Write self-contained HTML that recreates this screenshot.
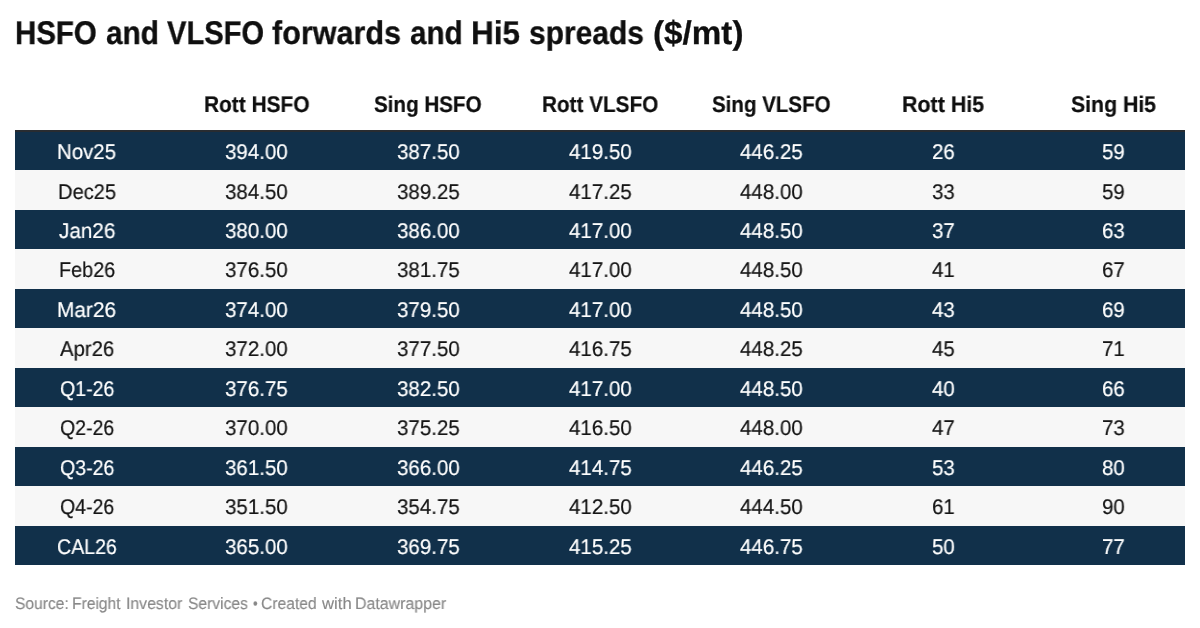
<!DOCTYPE html><html><head><meta charset="utf-8"><title>HSFO and VLSFO forwards and Hi5 spreads</title><style>
html,body{margin:0;padding:0;background:#fff;}
body{width:1200px;height:628px;overflow:hidden;position:relative;font-family:"Liberation Sans",sans-serif;text-rendering:geometricPrecision;}
.t{position:absolute;white-space:nowrap;line-height:1;transform-origin:0 0;will-change:transform;}
.r{position:absolute;left:15px;width:1170px;}
.tt{-webkit-text-stroke:0.3px currentColor}
.th{-webkit-text-stroke:0.2px currentColor}
.tb{-webkit-text-stroke:0.2px currentColor}
.ts{-webkit-text-stroke:0.15px currentColor}

</style></head><body>
<span class="t tt" style="left:14.76px;top:16.83px;font-size:32.8px;font-weight:bold;color:#0f0f0f;transform:scaleX(0.8979)">HSFO</span>
<span class="t tt" style="left:105.84px;top:16.83px;font-size:32.8px;font-weight:bold;color:#0f0f0f;transform:scaleX(0.9066)">and</span>
<span class="t tt" style="left:166.90px;top:16.83px;font-size:32.8px;font-weight:bold;color:#0f0f0f;transform:scaleX(0.8882)">VLSFO</span>
<span class="t tt" style="left:272.42px;top:16.83px;font-size:32.8px;font-weight:bold;color:#0f0f0f;transform:scaleX(0.9314)">forwards</span>
<span class="t tt" style="left:410.24px;top:16.83px;font-size:32.8px;font-weight:bold;color:#0f0f0f;transform:scaleX(0.9030)">and</span>
<span class="t tt" style="left:471.13px;top:16.83px;font-size:32.8px;font-weight:bold;color:#0f0f0f;transform:scaleX(0.9611)">Hi5</span>
<span class="t tt" style="left:529.16px;top:16.83px;font-size:32.8px;font-weight:bold;color:#0f0f0f;transform:scaleX(0.9137)">spreads</span>
<span class="t tt" style="left:652.94px;top:16.83px;font-size:32.8px;font-weight:bold;color:#0f0f0f;transform:scaleX(1.0131)">($/mt)</span>
<span class="t th" style="left:203.70px;top:93.67px;font-size:22.6px;font-weight:bold;color:#0f0f0f;transform:scaleX(0.9234)">Rott HSFO</span>
<span class="t th" style="left:374.48px;top:93.67px;font-size:22.6px;font-weight:bold;color:#0f0f0f;transform:scaleX(0.9117)">Sing HSFO</span>
<span class="t th" style="left:541.90px;top:93.67px;font-size:22.6px;font-weight:bold;color:#0f0f0f;transform:scaleX(0.9170)">Rott VLSFO</span>
<span class="t th" style="left:712.38px;top:93.67px;font-size:22.6px;font-weight:bold;color:#0f0f0f;transform:scaleX(0.9082)">Sing VLSFO</span>
<span class="t th" style="left:901.86px;top:93.67px;font-size:22.6px;font-weight:bold;color:#0f0f0f;transform:scaleX(0.9486)">Rott Hi5</span>
<span class="t th" style="left:1070.67px;top:93.67px;font-size:22.6px;font-weight:bold;color:#0f0f0f;transform:scaleX(0.9408)">Sing Hi5</span>
<div style="position:absolute;left:15px;width:1170px;top:130px;height:2px;background:#282c31"></div>
<div class="r" style="top:132.00px;height:38.46px;background:#11304a"></div>
<span class="t tb" style="left:57.30px;top:142.07px;font-size:21.3px;color:#ffffff;transform:scaleX(0.9586)">Nov25</span>
<span class="t tb" style="left:225.08px;top:142.07px;font-size:21.3px;color:#ffffff;transform:scaleX(0.9630)">394.00</span>
<span class="t tb" style="left:397.03px;top:142.07px;font-size:21.3px;color:#ffffff;transform:scaleX(0.9630)">387.50</span>
<span class="t tb" style="left:568.73px;top:142.07px;font-size:21.3px;color:#ffffff;transform:scaleX(0.9630)">419.50</span>
<span class="t tb" style="left:740.28px;top:142.07px;font-size:21.3px;color:#ffffff;transform:scaleX(0.9630)">446.25</span>
<span class="t tb" style="left:931.89px;top:142.07px;font-size:21.3px;color:#ffffff;transform:scaleX(0.9630)">26</span>
<span class="t tb" style="left:1101.89px;top:142.07px;font-size:21.3px;color:#ffffff;transform:scaleX(0.9630)">59</span>
<div class="r" style="top:170.46px;height:39.46px;background:#f7f7f7"></div>
<span class="t tb" style="left:57.73px;top:181.53px;font-size:21.3px;color:#141414;transform:scaleX(0.9434)">Dec25</span>
<span class="t tb" style="left:225.08px;top:181.53px;font-size:21.3px;color:#141414;transform:scaleX(0.9630)">384.50</span>
<span class="t tb" style="left:397.03px;top:181.53px;font-size:21.3px;color:#141414;transform:scaleX(0.9630)">389.25</span>
<span class="t tb" style="left:568.73px;top:181.53px;font-size:21.3px;color:#141414;transform:scaleX(0.9630)">417.25</span>
<span class="t tb" style="left:740.28px;top:181.53px;font-size:21.3px;color:#141414;transform:scaleX(0.9630)">448.00</span>
<span class="t tb" style="left:931.89px;top:181.53px;font-size:21.3px;color:#141414;transform:scaleX(0.9630)">33</span>
<span class="t tb" style="left:1101.89px;top:181.53px;font-size:21.3px;color:#141414;transform:scaleX(0.9630)">59</span>
<div class="r" style="top:209.92px;height:39.46px;background:#11304a"></div>
<span class="t tb" style="left:58.58px;top:220.99px;font-size:21.3px;color:#ffffff;transform:scaleX(0.9712)">Jan26</span>
<span class="t tb" style="left:225.08px;top:220.99px;font-size:21.3px;color:#ffffff;transform:scaleX(0.9630)">380.00</span>
<span class="t tb" style="left:397.03px;top:220.99px;font-size:21.3px;color:#ffffff;transform:scaleX(0.9630)">386.00</span>
<span class="t tb" style="left:568.73px;top:220.99px;font-size:21.3px;color:#ffffff;transform:scaleX(0.9630)">417.00</span>
<span class="t tb" style="left:740.28px;top:220.99px;font-size:21.3px;color:#ffffff;transform:scaleX(0.9630)">448.50</span>
<span class="t tb" style="left:931.89px;top:220.99px;font-size:21.3px;color:#ffffff;transform:scaleX(0.9630)">37</span>
<span class="t tb" style="left:1101.89px;top:220.99px;font-size:21.3px;color:#ffffff;transform:scaleX(0.9630)">63</span>
<div class="r" style="top:249.38px;height:39.46px;background:#f7f7f7"></div>
<span class="t tb" style="left:58.65px;top:260.45px;font-size:21.3px;color:#141414;transform:scaleX(0.9314)">Feb26</span>
<span class="t tb" style="left:225.08px;top:260.45px;font-size:21.3px;color:#141414;transform:scaleX(0.9630)">376.50</span>
<span class="t tb" style="left:397.03px;top:260.45px;font-size:21.3px;color:#141414;transform:scaleX(0.9630)">381.75</span>
<span class="t tb" style="left:568.73px;top:260.45px;font-size:21.3px;color:#141414;transform:scaleX(0.9630)">417.00</span>
<span class="t tb" style="left:740.28px;top:260.45px;font-size:21.3px;color:#141414;transform:scaleX(0.9630)">448.50</span>
<span class="t tb" style="left:931.89px;top:260.45px;font-size:21.3px;color:#141414;transform:scaleX(0.9630)">41</span>
<span class="t tb" style="left:1101.89px;top:260.45px;font-size:21.3px;color:#141414;transform:scaleX(0.9630)">67</span>
<div class="r" style="top:288.84px;height:39.46px;background:#11304a"></div>
<span class="t tb" style="left:57.07px;top:299.91px;font-size:21.3px;color:#ffffff;transform:scaleX(0.9784)">Mar26</span>
<span class="t tb" style="left:225.08px;top:299.91px;font-size:21.3px;color:#ffffff;transform:scaleX(0.9630)">374.00</span>
<span class="t tb" style="left:397.03px;top:299.91px;font-size:21.3px;color:#ffffff;transform:scaleX(0.9630)">379.50</span>
<span class="t tb" style="left:568.73px;top:299.91px;font-size:21.3px;color:#ffffff;transform:scaleX(0.9630)">417.00</span>
<span class="t tb" style="left:740.28px;top:299.91px;font-size:21.3px;color:#ffffff;transform:scaleX(0.9630)">448.50</span>
<span class="t tb" style="left:931.89px;top:299.91px;font-size:21.3px;color:#ffffff;transform:scaleX(0.9630)">43</span>
<span class="t tb" style="left:1101.89px;top:299.91px;font-size:21.3px;color:#ffffff;transform:scaleX(0.9630)">69</span>
<div class="r" style="top:328.30px;height:39.46px;background:#f7f7f7"></div>
<span class="t tb" style="left:60.20px;top:339.37px;font-size:21.3px;color:#141414;transform:scaleX(0.9531)">Apr26</span>
<span class="t tb" style="left:225.08px;top:339.37px;font-size:21.3px;color:#141414;transform:scaleX(0.9630)">372.00</span>
<span class="t tb" style="left:397.03px;top:339.37px;font-size:21.3px;color:#141414;transform:scaleX(0.9630)">377.50</span>
<span class="t tb" style="left:568.73px;top:339.37px;font-size:21.3px;color:#141414;transform:scaleX(0.9630)">416.75</span>
<span class="t tb" style="left:740.28px;top:339.37px;font-size:21.3px;color:#141414;transform:scaleX(0.9630)">448.25</span>
<span class="t tb" style="left:931.89px;top:339.37px;font-size:21.3px;color:#141414;transform:scaleX(0.9630)">45</span>
<span class="t tb" style="left:1101.89px;top:339.37px;font-size:21.3px;color:#141414;transform:scaleX(0.9630)">71</span>
<div class="r" style="top:367.76px;height:39.46px;background:#11304a"></div>
<span class="t tb" style="left:59.68px;top:378.83px;font-size:21.3px;color:#ffffff;transform:scaleX(0.9191)">Q1-26</span>
<span class="t tb" style="left:225.08px;top:378.83px;font-size:21.3px;color:#ffffff;transform:scaleX(0.9630)">376.75</span>
<span class="t tb" style="left:397.03px;top:378.83px;font-size:21.3px;color:#ffffff;transform:scaleX(0.9630)">382.50</span>
<span class="t tb" style="left:568.73px;top:378.83px;font-size:21.3px;color:#ffffff;transform:scaleX(0.9630)">417.00</span>
<span class="t tb" style="left:740.28px;top:378.83px;font-size:21.3px;color:#ffffff;transform:scaleX(0.9630)">448.50</span>
<span class="t tb" style="left:931.89px;top:378.83px;font-size:21.3px;color:#ffffff;transform:scaleX(0.9630)">40</span>
<span class="t tb" style="left:1101.89px;top:378.83px;font-size:21.3px;color:#ffffff;transform:scaleX(0.9630)">66</span>
<div class="r" style="top:407.22px;height:39.46px;background:#f7f7f7"></div>
<span class="t tb" style="left:59.83px;top:418.29px;font-size:21.3px;color:#141414;transform:scaleX(0.9165)">Q2-26</span>
<span class="t tb" style="left:225.08px;top:418.29px;font-size:21.3px;color:#141414;transform:scaleX(0.9630)">370.00</span>
<span class="t tb" style="left:397.03px;top:418.29px;font-size:21.3px;color:#141414;transform:scaleX(0.9630)">375.25</span>
<span class="t tb" style="left:568.73px;top:418.29px;font-size:21.3px;color:#141414;transform:scaleX(0.9630)">416.50</span>
<span class="t tb" style="left:740.28px;top:418.29px;font-size:21.3px;color:#141414;transform:scaleX(0.9630)">448.00</span>
<span class="t tb" style="left:931.89px;top:418.29px;font-size:21.3px;color:#141414;transform:scaleX(0.9630)">47</span>
<span class="t tb" style="left:1101.89px;top:418.29px;font-size:21.3px;color:#141414;transform:scaleX(0.9630)">73</span>
<div class="r" style="top:446.68px;height:39.46px;background:#11304a"></div>
<span class="t tb" style="left:59.68px;top:457.75px;font-size:21.3px;color:#ffffff;transform:scaleX(0.9191)">Q3-26</span>
<span class="t tb" style="left:225.08px;top:457.75px;font-size:21.3px;color:#ffffff;transform:scaleX(0.9630)">361.50</span>
<span class="t tb" style="left:397.03px;top:457.75px;font-size:21.3px;color:#ffffff;transform:scaleX(0.9630)">366.00</span>
<span class="t tb" style="left:568.73px;top:457.75px;font-size:21.3px;color:#ffffff;transform:scaleX(0.9630)">414.75</span>
<span class="t tb" style="left:740.28px;top:457.75px;font-size:21.3px;color:#ffffff;transform:scaleX(0.9630)">446.25</span>
<span class="t tb" style="left:931.89px;top:457.75px;font-size:21.3px;color:#ffffff;transform:scaleX(0.9630)">53</span>
<span class="t tb" style="left:1101.89px;top:457.75px;font-size:21.3px;color:#ffffff;transform:scaleX(0.9630)">80</span>
<div class="r" style="top:486.14px;height:39.46px;background:#f7f7f7"></div>
<span class="t tb" style="left:59.83px;top:497.21px;font-size:21.3px;color:#141414;transform:scaleX(0.9165)">Q4-26</span>
<span class="t tb" style="left:225.08px;top:497.21px;font-size:21.3px;color:#141414;transform:scaleX(0.9630)">351.50</span>
<span class="t tb" style="left:397.03px;top:497.21px;font-size:21.3px;color:#141414;transform:scaleX(0.9630)">354.75</span>
<span class="t tb" style="left:568.73px;top:497.21px;font-size:21.3px;color:#141414;transform:scaleX(0.9630)">412.50</span>
<span class="t tb" style="left:740.28px;top:497.21px;font-size:21.3px;color:#141414;transform:scaleX(0.9630)">444.50</span>
<span class="t tb" style="left:931.89px;top:497.21px;font-size:21.3px;color:#141414;transform:scaleX(0.9630)">61</span>
<span class="t tb" style="left:1101.89px;top:497.21px;font-size:21.3px;color:#141414;transform:scaleX(0.9630)">90</span>
<div class="r" style="top:525.60px;height:39.46px;background:#11304a"></div>
<span class="t tb" style="left:56.88px;top:536.67px;font-size:21.3px;color:#ffffff;transform:scaleX(0.9184)">CAL26</span>
<span class="t tb" style="left:225.08px;top:536.67px;font-size:21.3px;color:#ffffff;transform:scaleX(0.9630)">365.00</span>
<span class="t tb" style="left:397.03px;top:536.67px;font-size:21.3px;color:#ffffff;transform:scaleX(0.9630)">369.75</span>
<span class="t tb" style="left:568.73px;top:536.67px;font-size:21.3px;color:#ffffff;transform:scaleX(0.9630)">415.25</span>
<span class="t tb" style="left:740.28px;top:536.67px;font-size:21.3px;color:#ffffff;transform:scaleX(0.9630)">446.75</span>
<span class="t tb" style="left:931.89px;top:536.67px;font-size:21.3px;color:#ffffff;transform:scaleX(0.9630)">50</span>
<span class="t tb" style="left:1101.89px;top:536.67px;font-size:21.3px;color:#ffffff;transform:scaleX(0.9630)">77</span>
<span class="t ts" style="left:14.81px;top:595.75px;font-size:16.6px;color:#888888;transform:scaleX(0.9404)">Source:</span>
<span class="t ts" style="left:72.38px;top:595.75px;font-size:16.6px;color:#888888;transform:scaleX(0.9400)">Freight</span>
<span class="t ts" style="left:125.76px;top:595.75px;font-size:16.6px;color:#888888;transform:scaleX(0.9537)">Investor</span>
<span class="t ts" style="left:187.51px;top:595.75px;font-size:16.6px;color:#888888;transform:scaleX(0.9423)">Services</span>
<span class="t ts" style="left:252.79px;top:595.75px;font-size:16.6px;color:#888888;transform:scaleX(0.7925)">•</span>
<span class="t ts" style="left:261.27px;top:595.75px;font-size:16.6px;color:#888888;transform:scaleX(0.9434)">Created</span>
<span class="t ts" style="left:322.26px;top:595.75px;font-size:16.6px;color:#888888;transform:scaleX(1.0053)">with</span>
<span class="t ts" style="left:355.16px;top:595.75px;font-size:16.6px;color:#888888;transform:scaleX(0.9599)">Datawrapper</span>
</body></html>
